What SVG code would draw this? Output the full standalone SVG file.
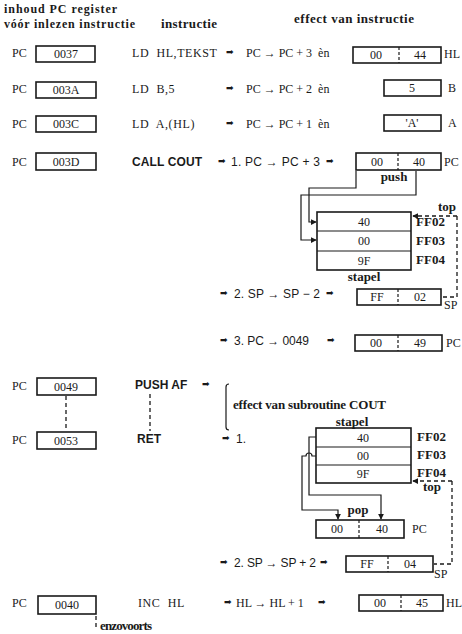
<svg xmlns="http://www.w3.org/2000/svg" width="462" height="634" viewBox="0 0 462 634">
<defs>
<marker id="ah" viewBox="0 0 8 8" refX="7" refY="4" markerWidth="6" markerHeight="6" orient="auto" markerUnits="userSpaceOnUse"><path d="M0,0 L8,4 L0,8 z" fill="#1a1a1a"/></marker>
</defs>
<style>
text{fill:#1a1a1a}
.s{font-family:"Liberation Serif","Times New Roman",serif;font-size:12px}
.sb{font-family:"Liberation Serif","Times New Roman",serif;font-size:13px;font-weight:bold}
.h{font-family:"Liberation Serif","Times New Roman",serif;font-size:12px;font-weight:bold}
.a{font-family:"Liberation Sans",Arial,sans-serif;font-size:12px}
.ab{font-family:"Liberation Sans",Arial,sans-serif;font-size:12px;font-weight:bold}
.ar{font-family:"DejaVu Sans",sans-serif;font-size:9px}
.m{text-anchor:middle}
.box{fill:none;stroke:#1a1a1a;stroke-width:1.6}
.div{stroke:#1a1a1a;stroke-width:1.2;stroke-dasharray:3,2}
.ln{fill:none;stroke:#1a1a1a;stroke-width:1.2}
.dl{fill:none;stroke:#1a1a1a;stroke-width:1.3;stroke-dasharray:4,3}
</style>
<rect width="462" height="634" fill="#fff"/>

<g id="header">
<text class="h" x="4" y="13" textLength="113">inhoud PC register</text>
<text class="h" x="4" y="28" textLength="131">vóór inlezen instructie</text>
<text class="sb" x="161" y="28" textLength="56">instructie</text>
<text class="sb" x="294" y="23" textLength="120">effect van instructie</text>
</g>

<g id="row1">
<text class="s" x="12" y="57">PC</text>
<rect class="box" x="36" y="46" width="59" height="16"/>
<text class="s m" x="66" y="58">0037</text>
<text class="s" x="132" y="57" xml:space="preserve" letter-spacing="0.6">LD  HL,TEKST</text>
<text class="ar" x="226" y="55">➡</text>
<text class="s" x="246" y="57" xml:space="preserve">PC → PC + 3  èn</text>
<rect class="box" x="353" y="47" width="88" height="16"/>
<line class="div" x1="399" y1="47" x2="399" y2="63"/>
<text class="s m" x="376" y="59">00</text>
<text class="s m" x="420" y="59">44</text>
<text class="s" x="444" y="58">HL</text>
</g>

<g id="row2">
<text class="s" x="12" y="93">PC</text>
<rect class="box" x="36" y="82" width="60" height="16"/>
<text class="s m" x="66" y="94">003A</text>
<text class="s" x="132" y="93" xml:space="preserve" letter-spacing="0.6">LD  B,5</text>
<text class="ar" x="226" y="91">➡</text>
<text class="s" x="246" y="93" xml:space="preserve">PC → PC + 2  èn</text>
<rect class="box" x="384" y="80" width="57" height="16"/>
<text class="s m" x="412" y="92">5</text>
<text class="s" x="448" y="92">B</text>
</g>

<g id="row3">
<text class="s" x="12" y="128">PC</text>
<rect class="box" x="36" y="116" width="60" height="16"/>
<text class="s m" x="66" y="128">003C</text>
<text class="s" x="132" y="128" xml:space="preserve" letter-spacing="0.6">LD  A,(HL)</text>
<text class="ar" x="226" y="126">➡</text>
<text class="s" x="246" y="128" xml:space="preserve">PC → PC + 1  èn</text>
<rect class="box" x="384" y="115" width="57" height="16"/>
<text class="s m" x="412" y="127">'A'</text>
<text class="s" x="448" y="127">A</text>
</g>

<g id="row4">
<text class="s" x="12" y="166">PC</text>
<rect class="box" x="36" y="153" width="60" height="17"/>
<text class="s m" x="66" y="166">003D</text>
<text class="ab" x="132" y="166" textLength="70">CALL COUT</text>
<text class="ar" x="218" y="164">➡</text>
<text class="a" x="231" y="166" textLength="89">1. PC → PC + 3</text>
<text class="ar" x="326" y="164">➡</text>
<rect class="box" x="356" y="153" width="85" height="17"/>
<line class="div" x1="398" y1="153" x2="398" y2="170"/>
<text class="s m" x="377" y="166">00</text>
<text class="s m" x="419" y="166">40</text>
<text class="s" x="444" y="166">PC</text>
<text class="sb m" x="394" y="181">push</text>
</g>

<g id="stack1">
<rect class="box" x="317" y="212" width="94" height="58"/>
<line class="ln" x1="317" y1="231" x2="411" y2="231"/>
<line class="ln" x1="317" y1="251" x2="411" y2="251"/>
<text class="s m" x="364" y="226">40</text>
<text class="s m" x="364" y="245">00</text>
<text class="s m" x="364" y="265">9F</text>
<text class="sb" x="416" y="226">FF02</text>
<text class="sb" x="416" y="245">FF03</text>
<text class="sb" x="416" y="264">FF04</text>
<text class="sb m" x="364" y="281">stapel</text>
<text class="sb" x="438" y="211">top</text>
</g>

<g id="row5">
<text class="ar" x="220" y="296">➡</text>
<text class="a" x="234" y="298" textLength="86">2. SP → SP − 2</text>
<text class="ar" x="326" y="296">➡</text>
<rect class="box" x="357" y="289" width="84" height="16"/>
<line class="div" x1="398" y1="289" x2="398" y2="305"/>
<text class="s m" x="377" y="301">FF</text>
<text class="s m" x="420" y="301">02</text>
<text class="s" x="444" y="309">SP</text>
</g>

<g id="row6">
<text class="ar" x="220" y="343">➡</text>
<text class="a" x="234" y="345" textLength="75">3. PC → 0049</text>
<text class="ar" x="327" y="343">➡</text>
<rect class="box" x="355" y="335" width="87" height="16"/>
<line class="div" x1="398" y1="335" x2="398" y2="351"/>
<text class="s m" x="376" y="347">00</text>
<text class="s m" x="420" y="347">49</text>
<text class="s" x="446" y="347">PC</text>
</g>

<g id="sub">
<text class="s" x="12" y="390">PC</text>
<rect class="box" x="37" y="378" width="59" height="17"/>
<text class="s m" x="66" y="391">0049</text>
<text class="s" x="12" y="444">PC</text>
<rect class="box" x="37" y="432" width="59" height="17"/>
<text class="s m" x="66" y="445">0053</text>
<text class="ab" x="135" y="389" font-size="11" xml:space="preserve">PUSH AF</text>
<text class="ar" x="202" y="387">➡</text>
<text class="ab" x="137" y="443" font-size="11">RET</text>
<text class="ar" x="222" y="441">➡</text>
<text class="a" x="236" y="443">1.</text>
<path class="ln" d="M229,384 q-3,0 -3,3 v40 q0,3 3,3"/>
<text class="sb" x="233" y="409" textLength="153">effect van subroutine COUT</text>
</g>

<g id="stack2">
<text class="sb m" x="352" y="426">stapel</text>
<rect class="box" x="316" y="428" width="95" height="55"/>
<line class="ln" x1="316" y1="447" x2="411" y2="447"/>
<line class="ln" x1="316" y1="465" x2="411" y2="465"/>
<text class="s m" x="363" y="442">40</text>
<text class="s m" x="363" y="460">00</text>
<text class="s m" x="363" y="478">9F</text>
<text class="sb" x="417" y="441">FF02</text>
<text class="sb" x="417" y="459">FF03</text>
<text class="sb" x="417" y="477">FF04</text>
<text class="sb" x="423" y="491">top</text>
<text class="sb m" x="358" y="514">pop</text>
</g>

<g id="pcpop">
<rect class="box" x="316" y="520" width="88" height="18"/>
<line class="div" x1="359" y1="520" x2="359" y2="538"/>
<text class="s m" x="337" y="533">00</text>
<text class="s m" x="382" y="533">40</text>
<text class="s" x="412" y="533">PC</text>
</g>

<g id="row7">
<text class="ar" x="220" y="565">➡</text>
<text class="a" x="234" y="567" textLength="82">2. SP → SP + 2</text>
<text class="ar" x="320" y="565">➡</text>
<rect class="box" x="346" y="556" width="87" height="16"/>
<line class="div" x1="388" y1="556" x2="388" y2="572"/>
<text class="s m" x="367" y="568">FF</text>
<text class="s m" x="410" y="568">04</text>
<text class="s" x="434" y="578">SP</text>
</g>

<g id="row8">
<text class="s" x="12" y="607">PC</text>
<rect class="box" x="38" y="596" width="58" height="18"/>
<text class="s m" x="67" y="609">0040</text>
<text class="s" x="138" y="607" xml:space="preserve" letter-spacing="0.6">INC  HL</text>
<text class="ar" x="224" y="605">➡</text>
<text class="s" x="236" y="607" xml:space="preserve">HL → HL + 1</text>
<text class="ar" x="318" y="605">➡</text>
<rect class="box" x="359" y="595" width="84" height="16"/>
<line class="div" x1="401" y1="595" x2="401" y2="611"/>
<text class="s m" x="380" y="607">00</text>
<text class="s m" x="422" y="607">45</text>
<text class="s" x="446" y="607">HL</text>
<text class="sb" x="100" y="630" textLength="52">enzovoorts</text>
</g>

<g id="connectors">
<path class="ln" d="M356,171 V188 H309 V222 H316" marker-end="url(#ah)"/>
<path class="ln" d="M416,171 V195 H301 V240 H316" marker-end="url(#ah)"/>
<path class="dl" d="M457,216 H413" marker-end="url(#ah)"/>
<path class="dl" d="M457,216 V297 H441"/>
<line class="dl" x1="66" y1="396" x2="66" y2="431"/>
<line class="dl" x1="150" y1="394" x2="150" y2="431"/>
<path class="ln" d="M316,437 H309 V495 H381 V519" marker-end="url(#ah)"/>
<path class="ln" d="M316,456 H312 a3,3 0 0 0 -6,0 H302 V510 H338 V519" marker-end="url(#ah)"/>
<path class="dl" d="M452,481 H413" marker-end="url(#ah)"/>
<path class="dl" d="M452,481 V564 H434"/>
<line class="dl" x1="96" y1="616" x2="96" y2="627"/>
</g>
</svg>
